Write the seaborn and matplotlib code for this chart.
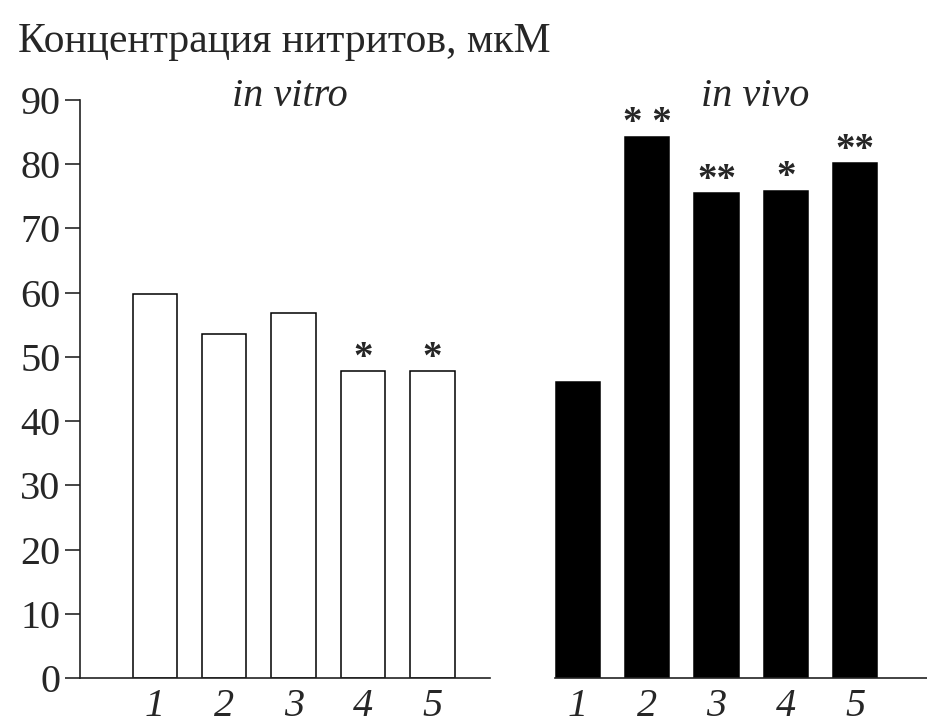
import numpy as np
import pandas as pd
import matplotlib
matplotlib.use('Agg')
import matplotlib.pyplot as plt
import seaborn as sns

sns.set_style('white')
plt.rcParams['font.family'] = ['Liberation Serif', 'DejaVu Serif']

# data
samples = ['1', '2', '3', '4', '5']
in_vitro = [59.8, 53.6, 56.9, 47.8, 47.8]
in_vivo = [46.1, 84.3, 75.5, 75.9, 80.2]
vitro_marks = ['', '', '', '*', '*']
vivo_marks = ['', '* *', '**', '*', '**']
yticks = [0, 10, 20, 30, 40, 50, 60, 70, 80, 90]

fig = plt.figure(figsize=(9.27, 7.23), dpi=100)
bottom, height = 1 - 678 / 723, (678 - 100) / 723
ax1 = fig.add_axes([80 / 927, bottom, 410 / 927, height])
ax2 = fig.add_axes([555 / 927, bottom, 372 / 927, height])

df_vitro = pd.DataFrame({'sample': samples, 'value': in_vitro})
df_vivo = pd.DataFrame({'sample': samples, 'value': in_vivo})

sns.barplot(data=df_vitro, x='sample', y='value', ax=ax1, color='white',
            edgecolor='black', linewidth=1.1, width=0.64, saturation=1)
sns.barplot(data=df_vivo, x='sample', y='value', ax=ax2, color='black',
            edgecolor='black', linewidth=1.1, width=0.64, saturation=1)

for ax, vals, marks in [(ax1, in_vitro, vitro_marks), (ax2, in_vivo, vivo_marks)]:
    ax.set_ylim(0, 90)
    ax.set_xlabel('')
    ax.set_ylabel('')
    # significance stars
    for i, (v, m) in enumerate(zip(vals, marks)):
        if m:
            ax.text(i, v - 0.9, m, ha='center', va='bottom', fontsize=28,
                    fontweight='bold')
    ax.tick_params(axis='x', length=0, pad=7, labelsize=29)
    for lab in ax.get_xticklabels():
        lab.set_fontstyle('italic')
    ax.spines['top'].set_visible(False)
    ax.spines['right'].set_visible(False)
    ax.spines['bottom'].set_linewidth(1.2)
    ax.spines['bottom'].set_color('#222222')

ax1.set_xlim(-1.08, 4.83)
ax1.set_yticks(yticks)
ax1.tick_params(axis='y', direction='out', length=11, width=1.2, pad=3,
                labelsize=29, left=True)
ax1.spines['left'].set_linewidth(1.2)
ax1.spines['left'].set_color('#222222')

ax2.set_xlim(-0.33, 5.04)
ax2.set_yticks([])
ax2.spines['left'].set_visible(False)

fig.text(18 / 927, 1 - 42 / 723, 'Концентрация нитритов, мкМ', fontsize=30,
         ha='left', va='center')
fig.text(290 / 927, 1 - 96 / 723, 'in vitro', fontsize=29, style='italic',
         ha='center', va='center')
fig.text(755 / 927, 1 - 96 / 723, 'in vivo', fontsize=29, style='italic',
         ha='center', va='center')

plt.savefig('out.png', dpi=100)
plt.close()
